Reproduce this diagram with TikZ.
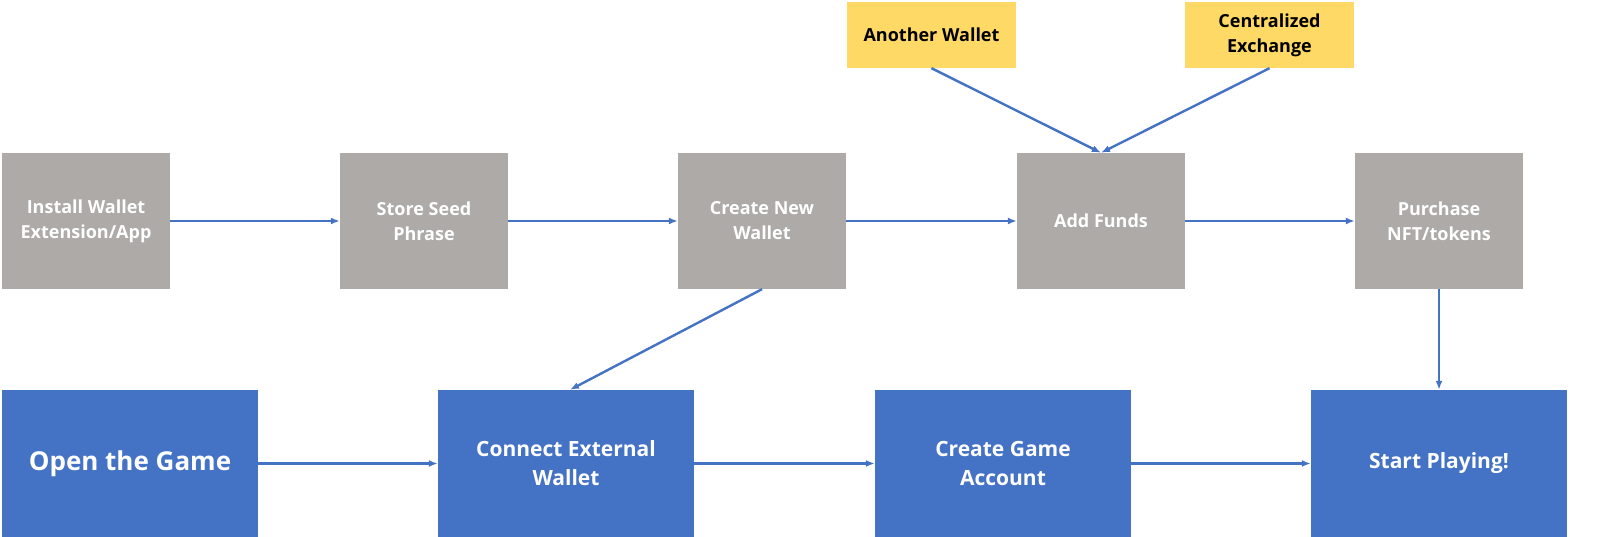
\documentclass[tikz,border=0pt]{standalone}
\usepackage{fontspec}
\setmainfont{Open Sans}
\usetikzlibrary{arrows.meta}
\definecolor{boxgray}{HTML}{ADAAA8}
\definecolor{boxblue}{HTML}{4472C4}
\definecolor{boxyellow}{HTML}{FFD966}
\begin{document}
\begin{tikzpicture}[x=1pt,y=-1pt,
    step box/.style={fill=boxgray,text=white,font=\fontsize{18}{25}\selectfont\bfseries,
        minimum width=168pt,minimum height=136pt,align=center,inner sep=0pt},
    game box/.style={fill=boxblue,text=white,font=\fontsize{21}{29}\selectfont\bfseries,
        minimum width=256pt,minimum height=147pt,align=center,inner sep=0pt},
    source box/.style={fill=boxyellow,text=black,font=\fontsize{18}{25}\selectfont\bfseries,
        minimum width=169pt,minimum height=66pt,align=center,inner sep=0pt},
    flow/.style={-{Latex[length=9pt,width=7pt]},draw=boxblue,line width=2.4pt}]
    \useasboundingbox (0,0) rectangle (1600,537);
    \node[step box] (install) at (86,221) {Install Wallet\\Extension/App};
    \node[step box] (seed) at (424,221) {Store Seed\\Phrase};
    \node[step box] (newwallet) at (762,221) {Create New\\Wallet};
    \node[step box] (funds) at (1101,221) {Add Funds};
    \node[step box] (purchase) at (1439,221) {Purchase\\NFT/tokens};
    \node[source box] (another) at (931.5,35) {Another Wallet};
    \node[source box] (exchange) at (1269.5,35) {Centralized\\Exchange};
    \node[game box,font=\fontsize{26}{32}\selectfont\bfseries] (open) at (130,463.5) {Open the Game};
    \node[game box] (connect) at (566,463.5) {Connect External\\Wallet};
    \node[game box] (account) at (1003,463.5) {Create Game\\Account};
    \node[game box] (playing) at (1439,463.5) {Start Playing!};
    \draw[flow] (install) -- (seed);
    \draw[flow] (seed) -- (newwallet);
    \draw[flow] (newwallet) -- (funds);
    \draw[flow] (funds) -- (purchase);
    \draw[flow] (another.south) -- (funds.north);
    \draw[flow] (exchange.south) -- (funds.north);
    \draw[flow] (newwallet.south) -- ([xshift=4pt]connect.north);
    \draw[flow] (purchase) -- (playing);
    \draw[flow] (open) -- (connect);
    \draw[flow] (connect) -- (account);
    \draw[flow] (account) -- (playing);
\end{tikzpicture}
\end{document}
